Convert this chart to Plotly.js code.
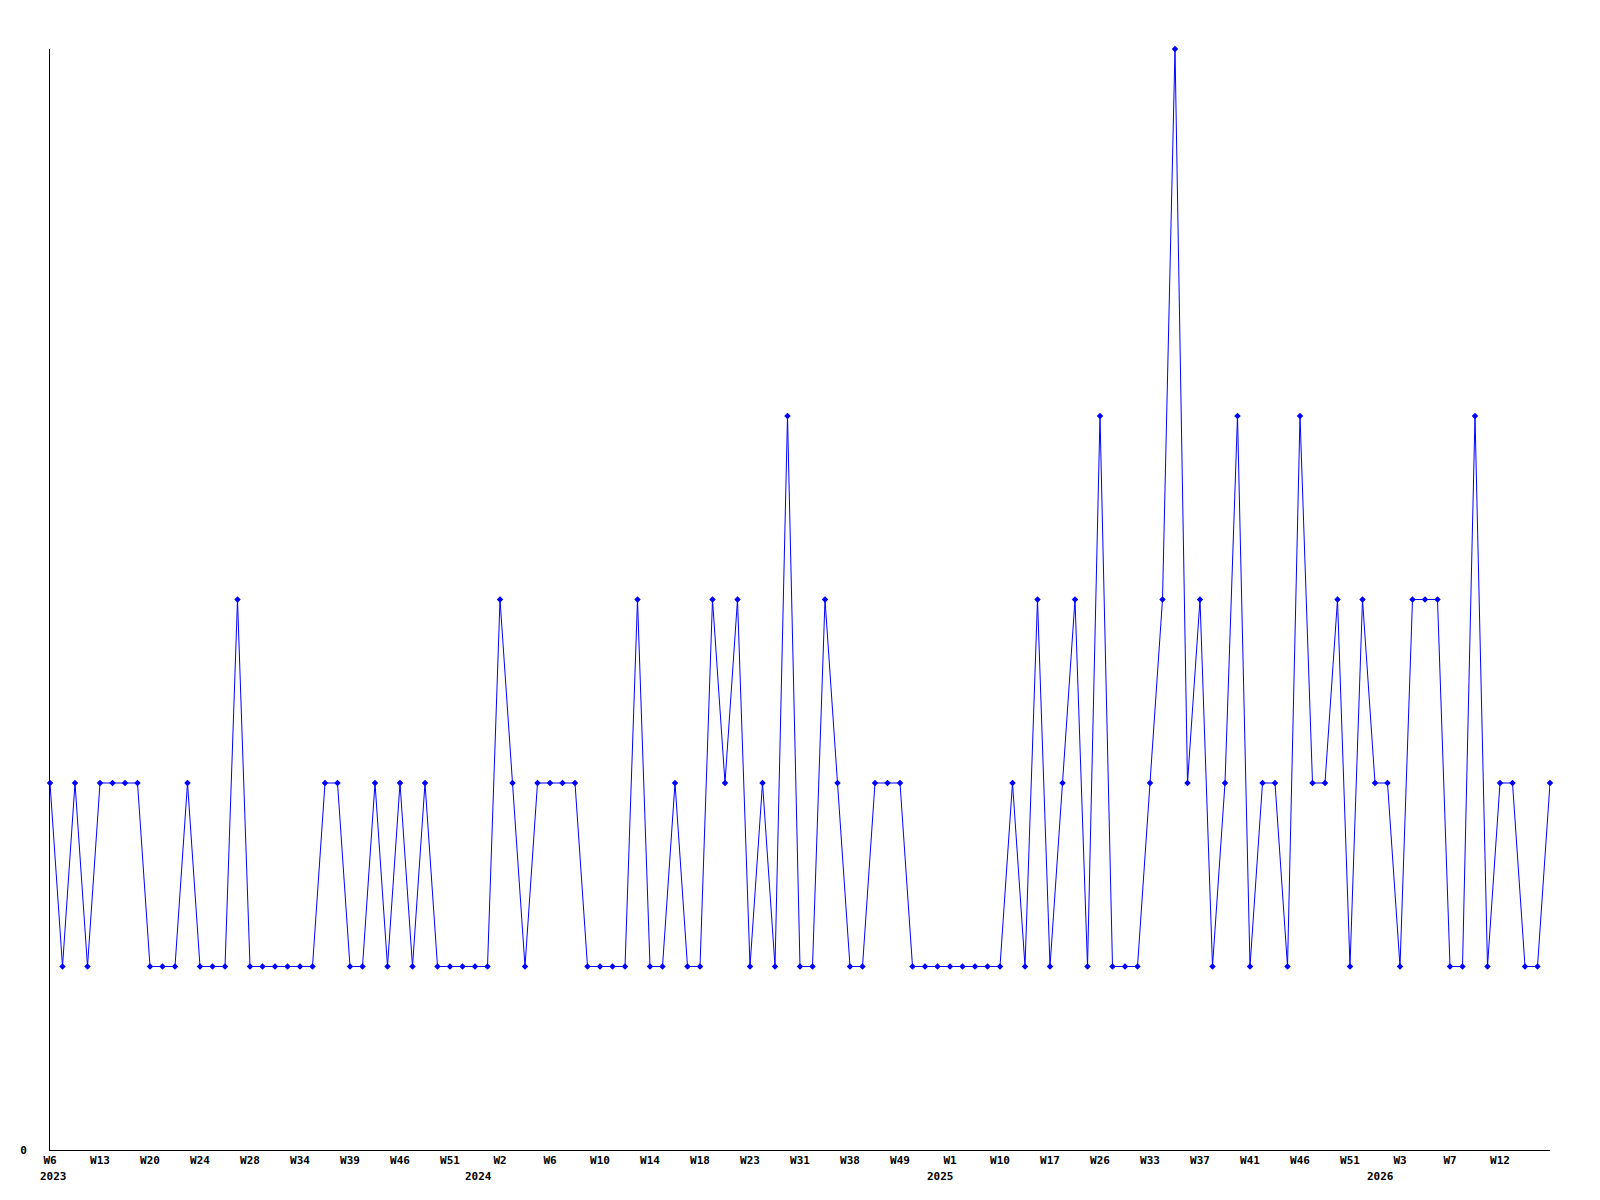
<!DOCTYPE html>
<html>
<head>
<meta charset="utf-8">
<script src="https://cdn.plot.ly/plotly-3.0.1.min.js"></script>
<style>html,body{margin:0;padding:0;background:#fff;}#chart{width:1600px;height:1200px;}</style>
</head>
<body>
<div id="chart"></div>
<script>
// Point index (one per sample) and values
const pointIndex = Array.from({length: 121}, (_, i) => i);
const counts = [
  2,1,2,1,2,2,2,2,1,1, 1,2,1,1,1,3,1,1,1,1,
  1,1,2,2,1,1,2,1,2,1, 2,1,1,1,1,1,3,2,1,2,
  2,2,2,1,1,1,1,3,1,1, 2,1,1,3,2,3,1,2,1,4,
  1,1,3,2,1,1,2,2,2,1, 1,1,1,1,1,1,1,2,1,3,
  1,2,3,1,4,1,1,1,2,3, 6,2,3,1,2,4,1,2,2,1,
  4,2,2,3,1,3,2,2,1,3, 3,3,1,1,4,1,2,2,1,1,
  2
];
// Week tick labels (every 4th sample)
const tickPositions = [0,4,8,12,16,20,24,28,32,36,40,44,48,52,56,60,64,68,72,76,80,84,88,92,96,100,104,108,112,116];
const tickWeeks = ["W6","W13","W20","W24","W28","W34","W39","W46","W51","W2","W6","W10","W14","W18","W23","W31","W38","W49","W1","W10","W17","W26","W33","W37","W41","W46","W51","W3","W7","W12"];
// Year labels
const yearLabels = ["2023","2024","2025","2026"];
const yearAt = [0.28, 34.3, 71.2, 106.4];

const trace = {
  x: pointIndex,
  y: counts,
  type: 'scatter',
  mode: 'lines+markers',
  line: {color: '#0000ff', width: 1},
  marker: {color: '#0000ff', symbol: 'diamond', size: 5},
  cliponaxis: false,
  hoverinfo: 'x+y'
};

const fnt = {family: 'DejaVu Sans Mono, monospace', size: 11, color: '#000000', weight: 'bold'};

const annotations = yearLabels.map((t, k) => ({
  text: t,
  x: yearAt[k],
  xref: 'x',
  y: 0,
  yref: 'paper',
  xanchor: 'center',
  yanchor: 'top',
  yshift: -18,
  showarrow: false,
  font: fnt
}));

const layout = {
  width: 1600,
  height: 1200,
  paper_bgcolor: '#ffffff',
  plot_bgcolor: '#ffffff',
  showlegend: false,
  margin: {l: 50, r: 50, t: 49, b: 50, pad: 0},
  font: fnt,
  annotations: annotations,
  xaxis: {
    range: [0, 120],
    tickmode: 'array',
    tickvals: tickPositions,
    ticktext: tickWeeks,
    ticks: '',
    showgrid: false,
    zeroline: false,
    showline: true,
    linecolor: '#000000',
    linewidth: 1,
    ticklabelstandoff: 0,
    tickangle: 0,
    tickfont: fnt
  },
  yaxis: {
    range: [0, 6],
    tickmode: 'array',
    tickvals: [0],
    ticktext: ['0'],
    ticks: '',
    showgrid: false,
    zeroline: false,
    showline: true,
    linecolor: '#000000',
    linewidth: 1,
    ticklabelstandoff: 20,
    tickfont: fnt
  }
};

Plotly.newPlot('chart', [trace], layout, {displayModeBar: false, staticPlot: true});
</script>
</body>
</html>
